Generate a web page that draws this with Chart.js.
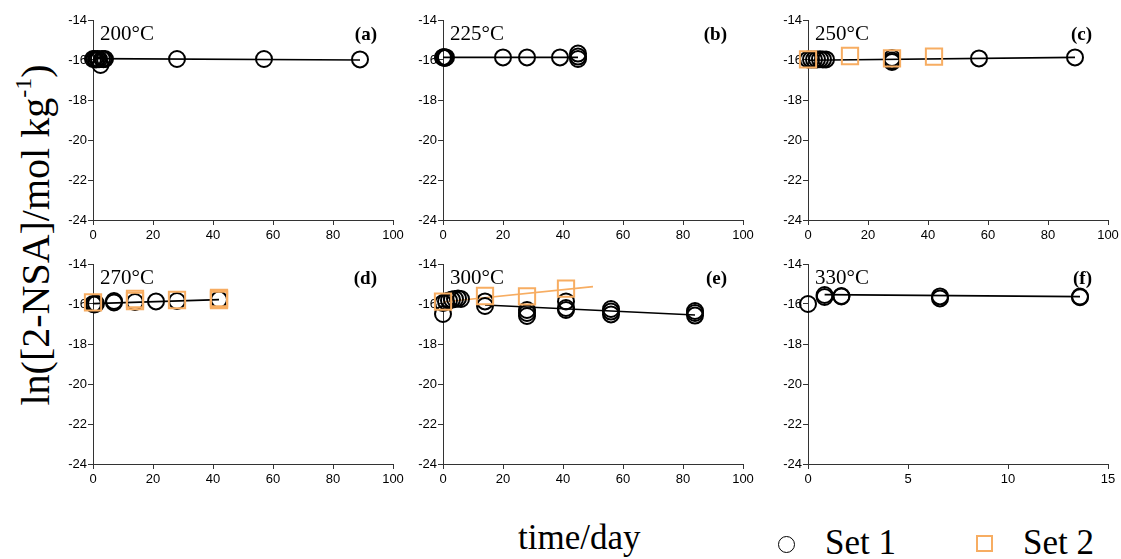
<!DOCTYPE html>
<html>
<head>
<meta charset="utf-8">
<script src="https://cdn.jsdelivr.net/npm/chart.js@4.4.1/dist/chart.umd.min.js"></script>
<style>
  body { margin: 0; background: #fff; }
  #wrap { position: relative; width: 1121px; height: 559px; overflow: hidden; background: #fff; }
  canvas { position: absolute; }
  .serif { position: absolute; font-family: "Liberation Serif", "Times New Roman", serif; color: #000; white-space: nowrap; line-height: 1; }
  #ytitle { font-size: 40px; left: 33px; top: 235px; transform: translate(-50%, -50%) rotate(-90deg); }
  #ytitle sup { font-size: 0.6em; vertical-align: 0.75em; }
  #xtitle { font-size: 35px; left: 518px; top: 520px; }
  .legtext { font-size: 35px; top: 525px; }
  .mark { position: absolute; box-sizing: border-box; }
</style>
</head>
<body>
<div id="wrap">
  <canvas id="pa" width="350" height="245" style="left:58px;top:0px"></canvas>
  <canvas id="pb" width="350" height="245" style="left:408px;top:0px"></canvas>
  <canvas id="pc" width="350" height="245" style="left:773px;top:0px"></canvas>
  <canvas id="pd" width="350" height="245" style="left:58px;top:244px"></canvas>
  <canvas id="pe" width="350" height="245" style="left:408px;top:244px"></canvas>
  <canvas id="pf" width="350" height="245" style="left:773px;top:244px"></canvas>

  <div id="ytitle" class="serif">ln([2-NSA]/mol kg<sup>-1</sup>)</div>
  <div id="xtitle" class="serif">time/day</div>
  <div class="mark" style="left:778px;top:536px;width:17px;height:17px;border:1.6px solid #000;border-radius:50%"></div>
  <div class="serif legtext" style="left:825px">Set 1</div>
  <div class="mark" style="left:976px;top:535px;width:17px;height:17px;border:2px solid #f7ad62"></div>
  <div class="serif legtext" style="left:1023px">Set 2</div>
</div>

<script>
// ---------- Data ----------
const panelTemps = ['200°C', '225°C', '250°C', '270°C', '300°C', '330°C'];
const panelLetters = ['(a)', '(b)', '(c)', '(d)', '(e)', '(f)'];
const xMaxes = [100, 100, 100, 100, 100, 15];
const xSteps = [20, 20, 20, 20, 20, 5];
const yMin = -24, yMax = -14, yStep = 2;

// (a) 200°C
const a_set1Days = [0, 0.5, 1, 1.5, 2, 2.5, 3, 3.5, 4, 28, 57, 89];
const a_set1Ln = [-15.95, -15.95, -15.97, -15.95, -15.96, -16.25, -15.95, -15.96, -15.95, -15.95, -15.95, -15.97];
const a_fitDays = [0, 89];
const a_fitLn = [-15.93, -16.0];

// (b) 225°C
const b_set1Days = [0, 0.3, 0.6, 1, 20, 28, 39, 45, 45, 45];
const b_set1Ln = [-15.87, -15.85, -15.9, -15.87, -15.87, -15.87, -15.87, -15.68, -15.83, -15.95];
const b_fitDays = [0, 45];
const b_fitLn = [-15.87, -15.87];

// (c) 250°C
const c_set1Days = [0, 1, 2, 3, 4, 5, 6, 28, 28, 28, 57, 89];
const c_set1Ln = [-15.97, -15.97, -15.98, -15.97, -15.96, -15.97, -15.97, -15.9, -16.02, -16.1, -15.92, -15.87];
const c_set2Days = [0, 14, 28, 42];
const c_set2Ln = [-15.97, -15.8, -15.92, -15.83];
const c_fitDays = [0, 89];
const c_fitLn = [-16.01, -15.87];

// (d) 270°C
const d_set1Days = [0, 0.5, 1, 7, 7, 14, 21, 28, 42];
const d_set1Ln = [-16.0, -16.02, -15.98, -15.85, -15.92, -15.9, -15.87, -15.85, -15.78];
const d_set2Days = [0, 14, 14, 28, 42, 42, 42];
const d_set2Ln = [-15.92, -15.75, -15.85, -15.8, -15.7, -15.75, -15.8];
const d_fitDays = [0, 42];
const d_fitLn = [-15.98, -15.78];

// (e) 300°C
const e_set1Days = [0, 0, 1, 2, 3, 4, 5, 6, 14, 14, 28, 28, 28, 41, 41, 41, 56, 56, 56, 84, 84, 84];
const e_set1Ln = [-16.5, -15.95, -15.88, -15.82, -15.78, -15.75, -15.72, -15.75, -15.87, -16.1, -16.3, -16.45, -16.6, -15.87, -16.2, -16.3, -16.25, -16.38, -16.52, -16.35, -16.45, -16.58];
const e_set2Days = [0, 14, 28, 41];
const e_set2Ln = [-15.88, -15.6, -15.62, -15.23];
const e_fit1Days = [14, 84];
const e_fit1Ln = [-16.05, -16.55];
const e_fit2Days = [0, 50];
const e_fit2Ln = [-15.9, -15.13];

// (f) 330°C
const f_set1Days = [0, 0.83, 0.83, 1.67, 1.67, 6.6, 6.6, 13.6, 13.6];
const f_set1Ln = [-16.0, -15.55, -15.65, -15.6, -15.62, -15.62, -15.72, -15.63, -15.66];
const f_fitDays = [0.83, 13.6];
const f_fitLn = [-15.53, -15.63];

// ---------- Style ----------
const BLACK = '#000';
const ORANGE = '#f7ad62';
const AXIS = '#333';
const TICK_FONT = { family: '"Liberation Sans", Arial, sans-serif', size: 13 };

function pts(xs, ys) {
  return xs.map((x, i) => ({ x, y: ys[i] }));
}

function set1(xs, ys) {
  return { data: pts(xs, ys), pointStyle: 'circle', pointRadius: 8, borderWidth: 2,
    borderColor: BLACK, backgroundColor: 'transparent', showLine: false, clip: false, order: 2 };
}
function set2(xs, ys) {
  return { data: pts(xs, ys), pointStyle: 'rect', pointRadius: 11.5, borderWidth: 2,
    borderColor: ORANGE, backgroundColor: 'transparent', showLine: false, clip: false, order: 1 };
}
function fit(xs, ys, color) {
  return { data: pts(xs, ys), showLine: true, pointRadius: 0, borderWidth: 1.6,
    borderColor: color, backgroundColor: color, clip: false, order: 3 };
}

const panels = [
  { id: 'pa', datasets: [fit(a_fitDays, a_fitLn, BLACK), set1(a_set1Days, a_set1Ln)] },
  { id: 'pb', datasets: [fit(b_fitDays, b_fitLn, BLACK), set1(b_set1Days, b_set1Ln)] },
  { id: 'pc', datasets: [fit(c_fitDays, c_fitLn, BLACK), set1(c_set1Days, c_set1Ln), set2(c_set2Days, c_set2Ln)] },
  { id: 'pd', datasets: [fit(d_fitDays, d_fitLn, BLACK), set1(d_set1Days, d_set1Ln), set2(d_set2Days, d_set2Ln)] },
  { id: 'pe', datasets: [fit(e_fit1Days, e_fit1Ln, BLACK), fit(e_fit2Days, e_fit2Ln, ORANGE), set1(e_set1Days, e_set1Ln), set2(e_set2Days, e_set2Ln)] },
  { id: 'pf', datasets: [fit(f_fitDays, f_fitLn, BLACK), set1(f_set1Days, f_set1Ln)] },
];

// ---------- Panel labels ----------
function labelPlugin(temp, letter) {
  return {
    id: 'panelLabel',
    afterDraw(chart) {
      const { ctx, chartArea } = chart;
      ctx.save();
      ctx.fillStyle = '#000';
      ctx.textBaseline = 'alphabetic';
      ctx.font = '21px "Liberation Serif", "Times New Roman", serif';
      ctx.textAlign = 'left';
      ctx.fillText(temp, chartArea.left + 7, chartArea.top + 20);
      ctx.font = 'bold 19px "Liberation Serif", "Times New Roman", serif';
      ctx.textAlign = 'right';
      ctx.fillText(letter, chartArea.right - 16, chartArea.top + 20);
      ctx.restore();
    }
  };
}

// ---------- Build ----------
function axisCommon() {
  return {
    type: 'linear',
    grid: { drawOnChartArea: false, drawTicks: true, tickLength: 5, color: AXIS, lineWidth: 1 },
    border: { display: true, color: AXIS, width: 1 },
    ticks: { font: TICK_FONT, color: '#000' }
  };
}

panels.forEach((p, i) => {
  const xAxis = axisCommon();
  xAxis.min = 0;
  xAxis.max = xMaxes[i];
  xAxis.ticks.stepSize = xSteps[i];
  xAxis.ticks.padding = 3;
  xAxis.afterFit = s => { s.height = 25; };

  const yAxis = axisCommon();
  yAxis.min = yMin;
  yAxis.max = yMax;
  yAxis.ticks.stepSize = yStep;
  yAxis.ticks.padding = 1;
  yAxis.afterFit = s => { s.width = 35; };

  new Chart(document.getElementById(p.id), {
    type: 'scatter',
    data: { datasets: p.datasets },
    options: {
      responsive: false,
      animation: false,
      devicePixelRatio: 1,
      layout: { padding: { top: 20, right: 15, left: 0, bottom: 0 } },
      plugins: { legend: { display: false }, tooltip: { enabled: false } },
      scales: { x: xAxis, y: yAxis }
    },
    plugins: [labelPlugin(panelTemps[i], panelLetters[i])]
  });
});
</script>
</body>
</html>
